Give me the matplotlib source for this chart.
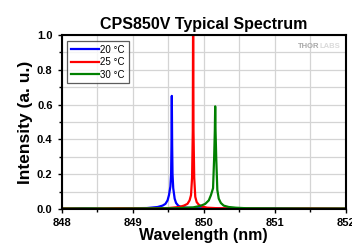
import matplotlib
matplotlib.use("Agg")
import matplotlib.pyplot as plt
from matplotlib.ticker import MultipleLocator

plt.rcParams['font.family'] = ['Liberation Sans', 'DejaVu Sans']

# spectra (wavelength in nm, intensity in a.u.)
wl_20 = [848.0, 848.3, 848.6, 848.9, 849.2, 849.35, 849.42, 849.46, 849.49, 849.51,
         849.53, 849.54, 849.545, 849.55, 849.555, 849.56, 849.57, 849.59, 849.61,
         849.64, 849.68, 849.75, 849.9, 850.2, 850.6, 851.0, 851.5, 852.0]
int_20 = [0.003, 0.004, 0.002, 0.005, 0.006, 0.012, 0.02, 0.03, 0.05, 0.08,
          0.13, 0.20, 0.36, 0.65, 0.36, 0.20, 0.12, 0.06, 0.035,
          0.02, 0.012, 0.008, 0.005, 0.004, 0.003, 0.004, 0.003, 0.002]

wl_25 = [848.0, 848.4, 848.8, 849.2, 849.5, 849.65, 849.72, 849.77, 849.8, 849.82,
         849.835, 849.845, 849.85, 849.855, 849.865, 849.88, 849.9, 849.93, 849.97,
         850.05, 850.2, 850.5, 851.0, 851.5, 852.0]
int_25 = [0.004, 0.003, 0.005, 0.004, 0.006, 0.012, 0.02, 0.03, 0.05, 0.08,
          0.18, 0.45, 1.25, 0.45, 0.18, 0.07, 0.04, 0.025, 0.015,
          0.008, 0.005, 0.004, 0.003, 0.004, 0.003]

wl_30 = [848.0, 848.4, 848.8, 849.2, 849.6, 849.85, 849.95, 850.02, 850.07, 850.1,
         850.13, 850.145, 850.155, 850.16, 850.165, 850.175, 850.19, 850.21, 850.24,
         850.28, 850.35, 850.45, 850.6, 851.0, 851.5, 852.0]
int_30 = [0.003, 0.004, 0.003, 0.004, 0.005, 0.01, 0.018, 0.03, 0.05, 0.08,
          0.12, 0.29, 0.45, 0.59, 0.45, 0.29, 0.11, 0.06, 0.035,
          0.02, 0.012, 0.008, 0.005, 0.004, 0.003, 0.003]

series = [
    (wl_20, int_20, '#0000ff', '20 °C'),
    (wl_25, int_25, '#ff0000', '25 °C'),
    (wl_30, int_30, '#008000', '30 °C'),
]

fig = plt.figure(figsize=(3.52, 2.46), dpi=100)
ax = fig.add_axes([0.175, 0.150, 0.808, 0.708])

for x, y, c, lab in series:
    ax.plot(x, y, color=c, linewidth=1.6, label=lab)

ax.xaxis.set_minor_locator(MultipleLocator(0.5))
ax.yaxis.set_minor_locator(MultipleLocator(0.1))
ax.grid(True, which='both', color='#d4d4d4', linewidth=0.9)
ax.set_axisbelow(True)

ax.tick_params(which='both', direction='out', width=1.0, colors='black',
               labelsize=8)
ax.tick_params(which='major', length=3)
ax.tick_params(which='minor', length=2)
yt = [0.0, 0.2, 0.4, 0.6, 0.8, 1.0]
ax.set_yticks(yt)
ax.set_yticklabels([f'{v:.1f}' for v in yt], fontweight='bold')
ax.set_xticks([848, 849, 850, 851, 852])
ax.set_xticklabels(['848', '849', '850', '851', '852'], fontweight='bold')
ax.set_xlim(848, 852)
ax.set_ylim(0, 1.0)

for s in ax.spines.values():
    s.set_linewidth(1.5)

ax.set_title('CPS850V Typical Spectrum', fontsize=11.5, fontweight='bold', pad=4)
ax.set_xlabel('Wavelength (nm)', fontsize=11.5, fontweight='bold', labelpad=0)
ax.set_ylabel('Intensity (a. u.)', fontsize=12.5, fontweight='bold', labelpad=3)

leg = ax.legend(loc='upper left', fontsize=7, frameon=True, fancybox=False,
                handlelength=2.8, handletextpad=0.2, borderpad=0.4,
                labelspacing=0.25, borderaxespad=0.6)
leg.get_frame().set_edgecolor('#333333')
leg.get_frame().set_linewidth(0.9)

ax.text(0.908, 0.955, 'THOR', transform=ax.transAxes, ha='right', va='top',
        fontsize=5.5, fontweight='bold', color='#a8a8a8')
ax.text(0.908, 0.955, 'LABS', transform=ax.transAxes, ha='left', va='top',
        fontsize=5.5, fontweight='bold', color='#dadada')

fig.savefig('out.png', dpi=100)
